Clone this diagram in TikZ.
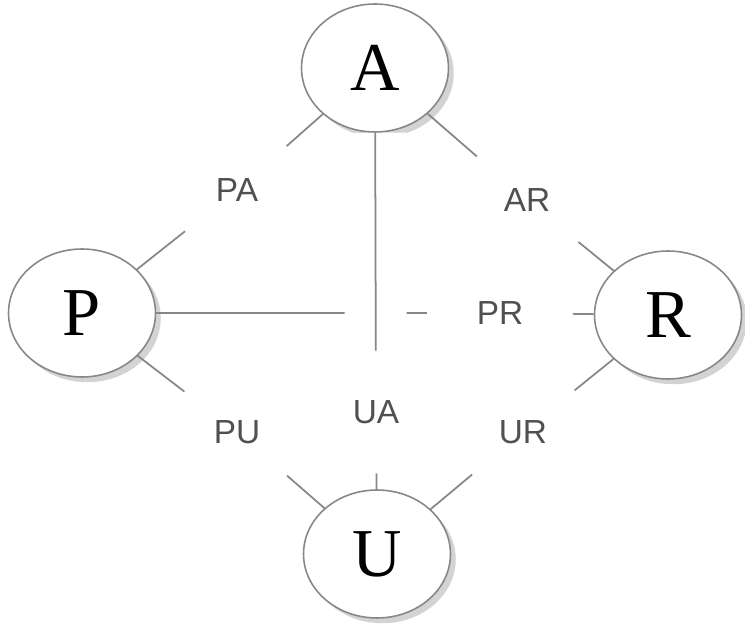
\documentclass[tikz,border=0pt]{standalone}
\usepackage{fontspec}
\setmainfont{Liberation Serif}
\setsansfont{Liberation Sans}
\usepackage{tikz}
\usetikzlibrary{shapes, arrows, shadows}
\definecolor{linegray}{RGB}{135,135,135}
\definecolor{textgray}{RGB}{80,80,80}
\tikzstyle{entity} = [ellipse, minimum width=2.94cm, minimum height=2.56cm, text centered, draw=linegray, line width=0.9pt, fill=white, drop shadow={shadow xshift=3pt, shadow yshift=-3pt, opacity=0.35}, font=\fontsize{39}{44}\selectfont]
\tikzstyle{pair} = [circle, minimum size=2.64cm, inner sep=0pt, text=textgray, font=\sffamily\fontsize{19}{22}\selectfont]
\tikzstyle{link} = [linegray, line width=1pt]

\begin{document}
\begin{tikzpicture}[x=0.02cm, y=-0.02cm]
\useasboundingbox (0,0) rectangle (745,631);
\node (A) [entity] at (375,68) {A};
\node (P) [entity] at (82,313) {P};
\node (R) [entity] at (668,315) {R};
\node (U) [entity] at (377,554) {U};

\node (PA) [pair] at (237,190) {PA};
\node (AR) [pair] at (527,200) {AR};
\node (PR) [pair, minimum size=2.9cm] at (500,313) {PR};
\node (PU) [pair] at (237,432) {PU};
\node (UA) [pair, minimum size=2.44cm] at (376,412) {UA};
\node (UR) [pair] at (523,432) {UR};

\draw [link] (A) -- (PA);
\draw [link] (P) -- (PA);
\draw [link] (A) -- (AR);
\draw [link] (R) -- (AR);
\draw [link] (P) -- (PR);
\draw [link] (R) -- (PR);
\draw [link] (P) -- (PU);
\draw [link] (U) -- (PU);
\draw [link] (R) -- (UR);
\draw [link] (U) -- (UR);
\draw [link] (U) -- (UA);
\draw [link, preaction={draw=white, line width=1.24cm}] (A) -- (UA);

\end{tikzpicture}
\end{document}
